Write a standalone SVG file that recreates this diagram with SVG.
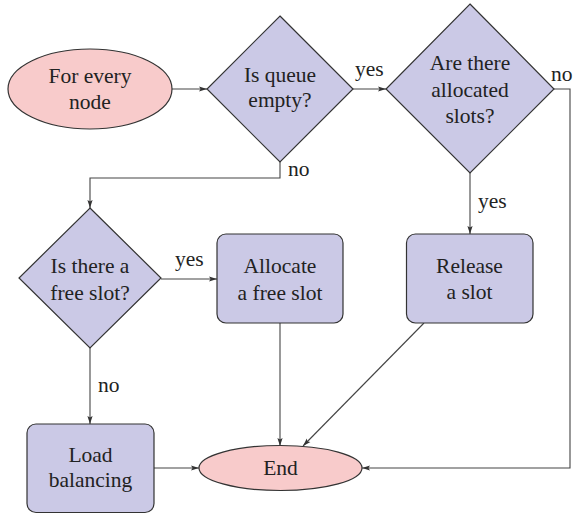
<svg xmlns="http://www.w3.org/2000/svg" width="573" height="514" viewBox="0 0 573 514">
<defs>
<marker id="arr" markerUnits="userSpaceOnUse" markerWidth="8" markerHeight="6" refX="8" refY="3" orient="auto">
<path d="M0,0.4 L8,3 L0,5.6 L1.6,3 z" fill="#333"/>
</marker>
<style>
text{font-family:'Liberation Serif','Tinos','Nimbus Roman','Nimbus Roman No9 L','FreeSerif','Noto Serif','DejaVu Serif','Times New Roman',Times,serif;font-size:21.5px;fill:#222}
.t{text-anchor:middle}
.term{fill:#f8cbcb;stroke:#333;stroke-width:1.2}
.proc{fill:#cbc9e6;stroke:#333;stroke-width:1.2}
.c{fill:none;stroke:#444;stroke-width:1.1;marker-end:url(#arr)}
</style>
</defs>
<rect width="573" height="514" fill="#fff"/>
<g id="connectors">
<path class="c" d="M172,89 L207,89"/>
<path class="c" d="M280,162 L280,178 L90,178 L90,208"/>
<path class="c" d="M353,89 L386,89"/>
<path class="c" d="M554,89 L570,89 L570,468 L362,468"/>
<path class="c" d="M470,173 L470,234"/>
<path class="c" d="M161,279 L217,279"/>
<path class="c" d="M90,348 L90,424"/>
<path class="c" d="M280,323 L280,446"/>
<path class="c" d="M424,323 L303,446"/>
<path class="c" d="M154,468 L199,468"/>
<text x="288" y="176">no</text>
<text x="355" y="76">yes</text>
<text x="551" y="81">no</text>
<text x="478" y="208">yes</text>
<text x="175" y="266">yes</text>
<text x="98" y="392">no</text>
</g>
<g id="start">
<ellipse class="term" cx="90" cy="89" rx="82" ry="40"/>
<text class="t" x="90" y="83">For every</text>
<text class="t" x="90" y="109">node</text>
</g>
<g id="queue">
<polygon class="proc" points="280,16 353,89 280,162 207,89"/>
<text class="t" x="280" y="82">Is queue</text>
<text class="t" x="280" y="107">empty?</text>
</g>
<g id="allocated">
<polygon class="proc" points="470,4 554,89 470,173 386,89"/>
<text class="t" x="470" y="70">Are there</text>
<text class="t" x="470" y="96.5">allocated</text>
<text class="t" x="470" y="122.5">slots?</text>
</g>
<g id="freeslot">
<polygon class="proc" points="90,208 161,278 90,348 19,278"/>
<text class="t" x="90" y="273">Is there a</text>
<text class="t" x="90" y="300">free slot?</text>
</g>
<g id="allocate">
<rect class="proc" x="217" y="234" width="126" height="89" rx="9"/>
<text class="t" x="280" y="273">Allocate</text>
<text class="t" x="280" y="300">a free slot</text>
</g>
<g id="release">
<rect class="proc" x="406.5" y="234" width="126.5" height="89" rx="9"/>
<text class="t" x="469.5" y="273">Release</text>
<text class="t" x="469.5" y="299">a slot</text>
</g>
<g id="load">
<rect class="proc" x="27" y="424" width="127" height="88.5" rx="9"/>
<text class="t" x="90.5" y="461.5">Load</text>
<text class="t" x="90.5" y="486.5">balancing</text>
</g>
<g id="end">
<ellipse class="term" cx="280.5" cy="468" rx="81.5" ry="22.5"/>
<text class="t" x="280.5" y="475">End</text>
</g>
</svg>
